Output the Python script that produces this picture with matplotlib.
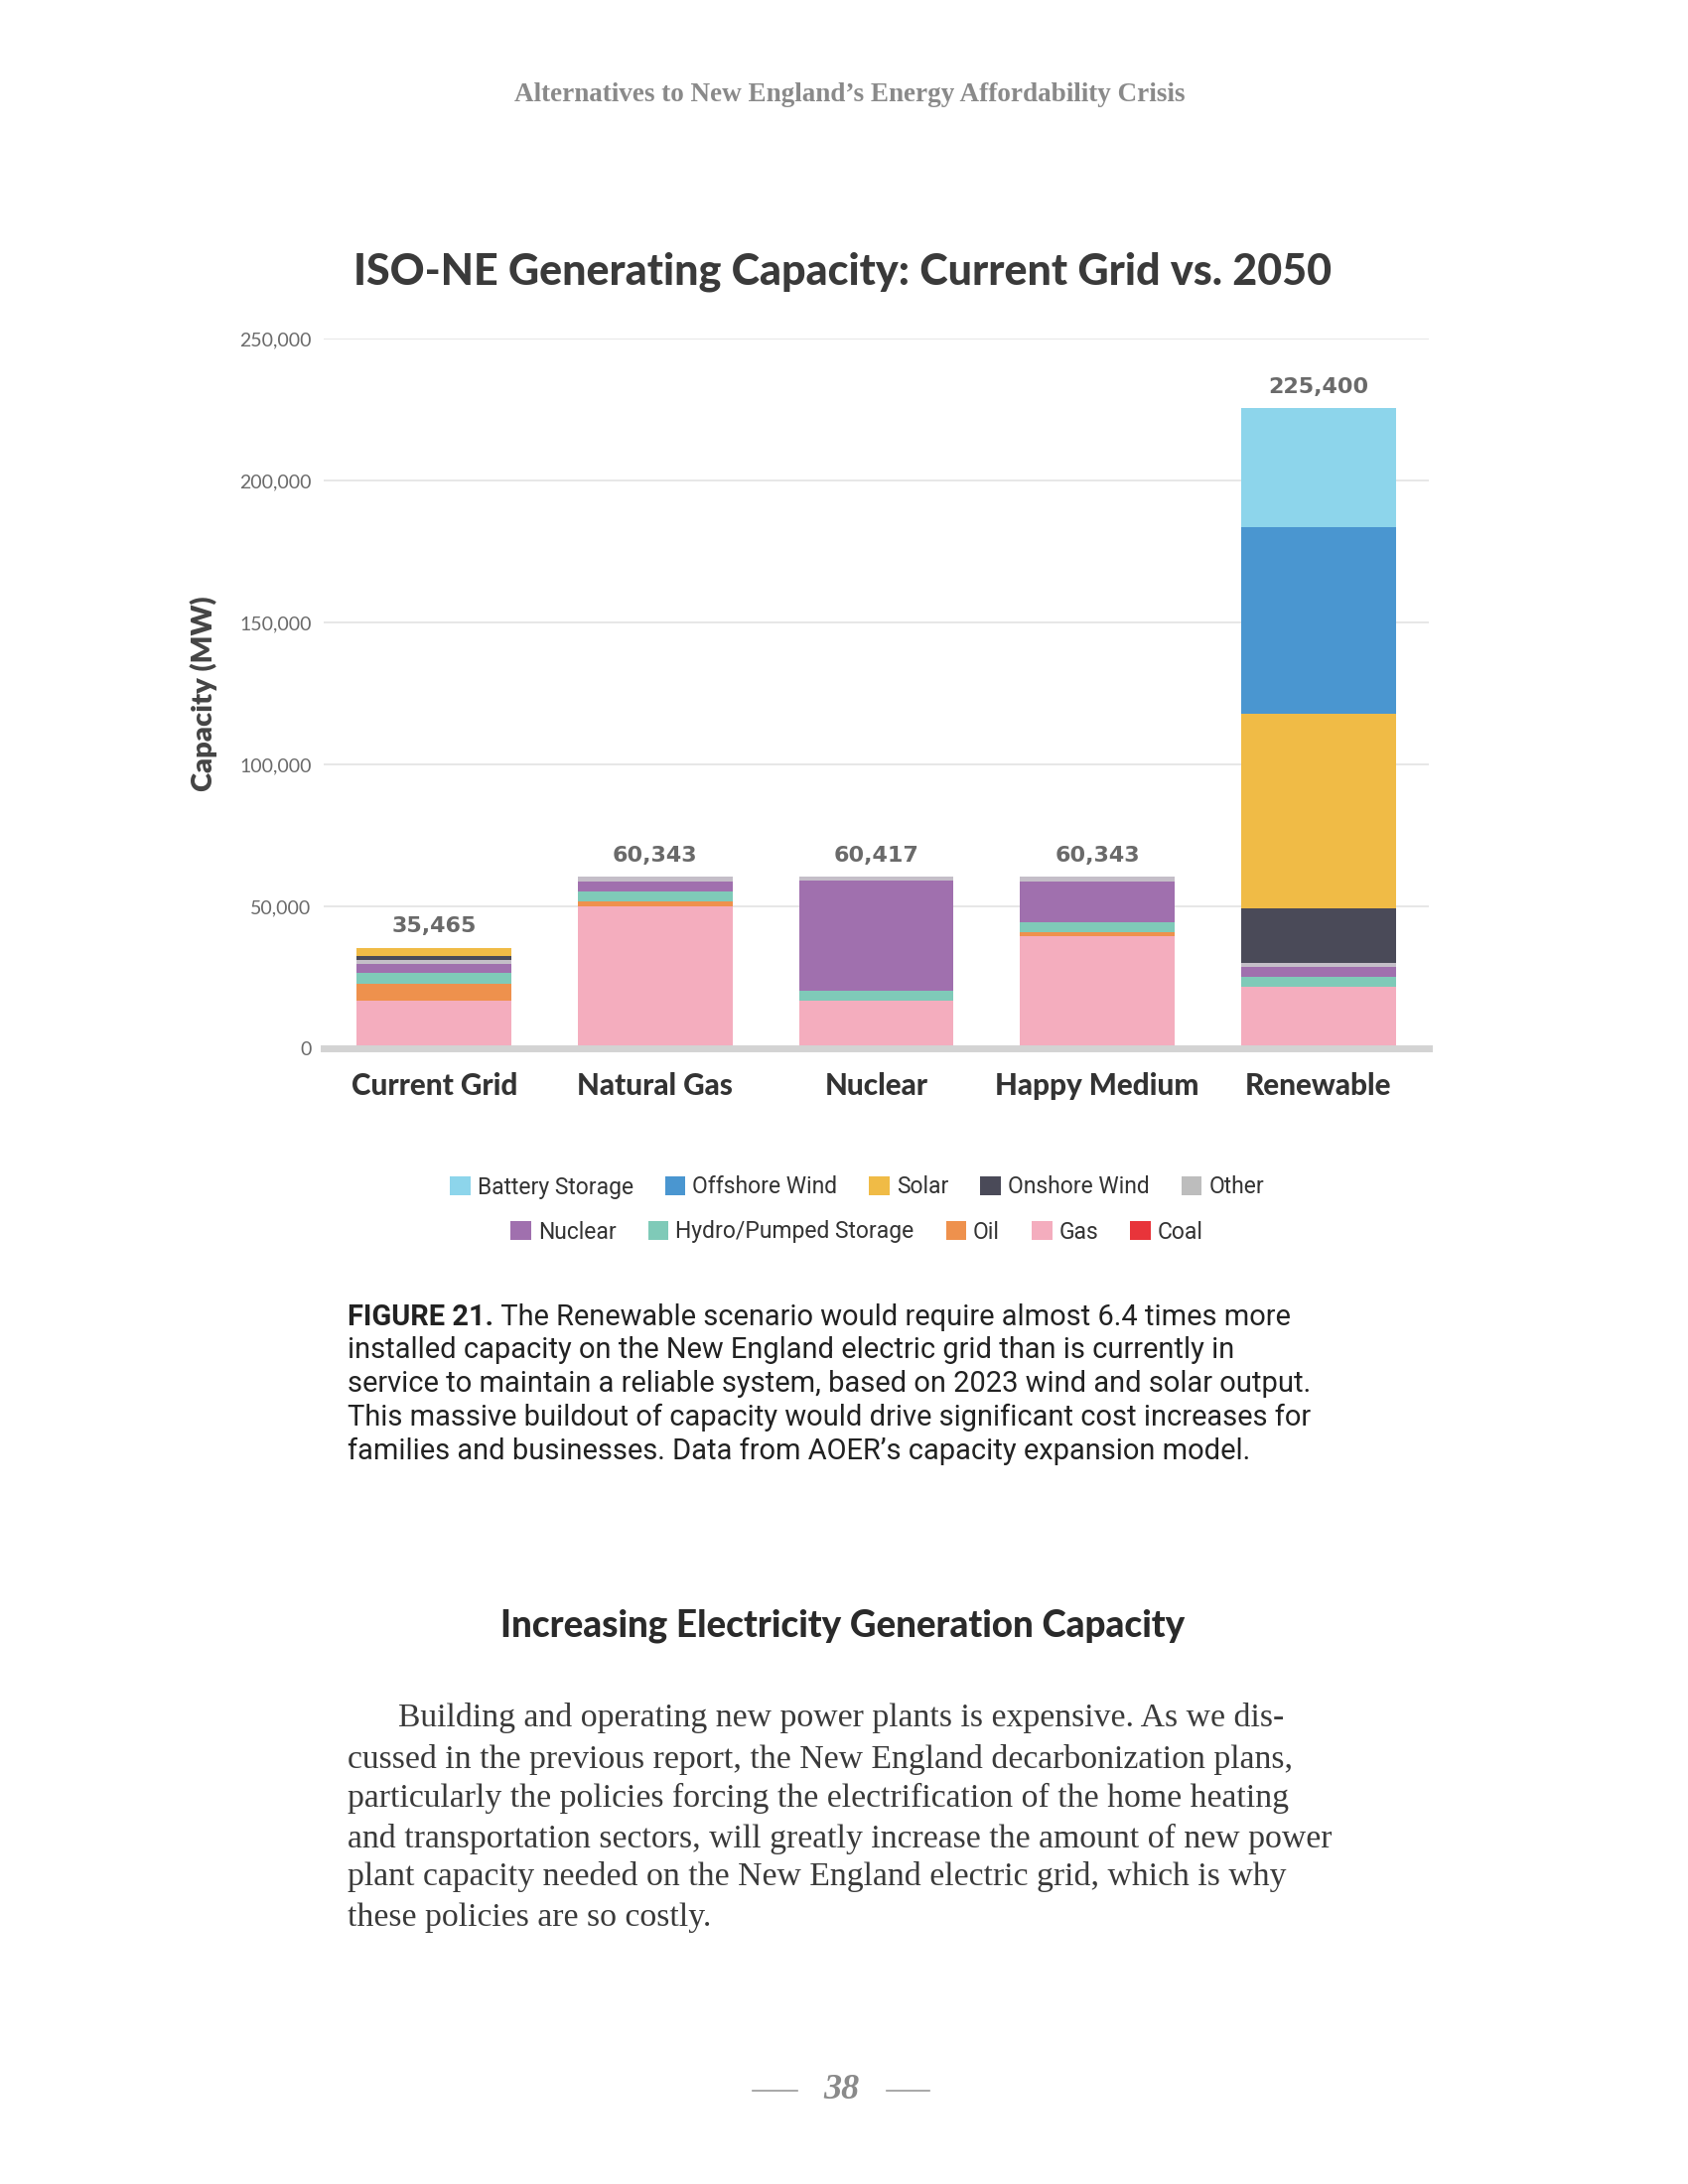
import matplotlib
matplotlib.use("Agg")
import matplotlib.pyplot as plt
from matplotlib.patches import Patch
from matplotlib.lines import Line2D
import numpy as np

categories = ["Current Grid", "Natural Gas", "Nuclear", "Happy Medium", "Renewable"]

# stacked series, bottom to top
coal     = [0, 0, 0, 0, 0]
gas      = [16700, 49843, 16700, 39443, 21600]
oil      = [6200, 2000, 0, 1300, 0]
hydro    = [3500, 3500, 3500, 3500, 3500]
nuclear  = [3350, 3500, 38717, 14600, 3500]
other    = [1500, 1500, 1500, 1500, 1500]
onshore  = [1400, 0, 0, 0, 19200]
solar    = [2815, 0, 0, 0, 68400]
offshore = [0, 0, 0, 0, 65700]
battery  = [0, 0, 0, 0, 42000]

yticks = [0, 50000, 100000, 150000, 200000, 250000]

series = [
    ("Coal", coal, "#E8343A"),
    ("Gas", gas, "#F4ADBE"),
    ("Oil", oil, "#EE914D"),
    ("Hydro/Pumped Storage", hydro, "#7FCAB8"),
    ("Nuclear", nuclear, "#A070AE"),
    ("Other", other, "#C4BEC8"),
    ("Onshore Wind", onshore, "#4A4A58"),
    ("Solar", solar, "#F0BB46"),
    ("Offshore Wind", offshore, "#4A96D0"),
    ("Battery Storage", battery, "#8DD5EB"),
]
legend_colors = {name: c for name, _, c in series}
legend_colors["Other"] = "#BDBDBD"

W, H = 1700, 2200
fig = plt.figure(figsize=(17, 22), dpi=100)
fig.patch.set_facecolor("white")

def fx(x):
    return x / W

def fy(y):
    return 1 - y / H

SANS = ["Lato", "DejaVu Sans"]
SERIF = ["Liberation Serif", "DejaVu Serif"]
NARROW = ["Liberation Sans Narrow", "Roboto", "DejaVu Sans"]

# header
fig.text(fx(856), fy(95), "Alternatives to New England\u2019s Energy Affordability Crisis",
         ha="center", va="center", fontsize=19.5, fontweight="bold", color="#8a8a8a",
         family=SERIF)

# title
fig.text(fx(849), fy(274), "ISO-NE Generating Capacity: Current Grid vs. 2050",
         ha="center", va="center", fontsize=31, fontweight="black", color="#3a3a3a",
         family=SANS)

ax = fig.add_axes([fx(326), fy(1056), fx(1439) - fx(326), fy(341) - fy(1056)])
x = np.arange(len(categories))
bottom = np.zeros(len(categories))
for name, vals, col in series:
    v = np.array(vals, dtype=float)
    ax.bar(x, v, width=0.70, bottom=bottom, color=col, edgecolor="none", zorder=3)
    bottom += v

totals = bottom
for xi, t in zip(x, totals):
    ax.annotate(f"{int(round(t)):,}", (xi, t), xytext=(0, 8), textcoords="offset points",
                ha="center", va="bottom", fontsize=16, fontweight="bold", color="#6a6a6a",
                family=["DejaVu Sans"])

ax.set_xlim(-0.5, 4.5)
ax.set_ylim(0, 250000)
ax.set_yticks(yticks)
ax.set_yticklabels([f"{v:,}" for v in yticks], fontsize=14, color="#6a6a6a",
                   family=SANS, fontweight="normal")
ax.set_xticks(x)
ax.set_xticklabels(categories, fontsize=21.3, fontweight="black", color="#333333", family=SANS)
ax.tick_params(axis="both", length=0)
ax.tick_params(axis="y", pad=9)
ax.tick_params(axis="x", pad=17)
ax.grid(axis="y", color="#E3E3E3", linewidth=1.2, zorder=0)
for s in ["top", "right", "left"]:
    ax.spines[s].set_visible(False)
ax.spines["bottom"].set_color("#D3D3D3")
ax.spines["bottom"].set_linewidth(5)
ax.spines["bottom"].set_zorder(4)
ax.set_ylabel("Capacity (MW)", fontsize=21, fontweight="heavy", color="#444444",
              family=SANS, labelpad=16)

# legends (two centered rows)
row1 = ["Battery Storage", "Offshore Wind", "Solar", "Onshore Wind", "Other"]
row2 = ["Nuclear", "Hydro/Pumped Storage", "Oil", "Gas", "Coal"]
for names, yy in [(row1, 1196), (row2, 1241)]:
    handles = [Patch(facecolor=legend_colors[n], edgecolor="none") for n in names]
    leg = fig.legend(handles, names, loc="center", bbox_to_anchor=(fx(863), fy(yy)),
                     ncol=5, frameon=False, handlelength=0.9, handleheight=0.9,
                     handletextpad=0.3, columnspacing=1.4,
                     prop={"family": NARROW, "size": 16.5})
    for t in leg.get_texts():
        t.set_color("#333333")

# caption
cap_lines = [
    " The Renewable scenario would require almost 6.4 times more",
    "installed capacity on the New England electric grid than is currently in",
    "service to maintain a reliable system, based on 2023 wind and solar output.",
    "This massive buildout of capacity would drive significant cost increases for",
    "families and businesses. Data from AOER\u2019s capacity expansion model.",
]
cap_y = [1327, 1360, 1394, 1428, 1462]
renderer = fig.canvas.get_renderer()
b = fig.text(fx(350), fy(cap_y[0]), "FIGURE 21.", ha="left", va="center", fontsize=20.9,
             fontweight="bold", color="#222222", family=NARROW)
bb = b.get_window_extent(renderer=renderer)
fig.text(bb.x1 / W, fy(cap_y[0]), cap_lines[0], ha="left", va="center", fontsize=20.9,
         color="#222222", family=NARROW)
for line, yy in zip(cap_lines[1:], cap_y[1:]):
    fig.text(fx(350), fy(yy), line, ha="left", va="center", fontsize=20.9,
             color="#222222", family=NARROW)

# section heading
fig.text(fx(849), fy(1638), "Increasing Electricity Generation Capacity", ha="center",
         va="center", fontsize=26.5, fontweight="black", color="#2a2a2a", family=SANS)

# body
body = [
    "Building and operating new power plants is expensive. As we dis-",
    "cussed in the previous report, the New England decarbonization plans,",
    "particularly the policies forcing the electrification of the home heating",
    "and transportation sectors, will greatly increase the amount of new power",
    "plant capacity needed on the New England electric grid, which is why",
    "these policies are so costly.",
]
body_y = [1731, 1772, 1811, 1852, 1891, 1932]
for i, (line, yy) in enumerate(zip(body, body_y)):
    fig.text(fx(401 if i == 0 else 350), fy(yy), line, ha="left", va="center",
             fontsize=24.3, color="#3a3a3a", family=SERIF)

# page number
fig.text(fx(847), fy(2106), "38", ha="center", va="center", fontsize=26,
         fontweight="bold", fontstyle="italic", color="#8a8a8a", family=SERIF)
for x0, x1 in [(758, 803), (893, 936)]:
    fig.add_artist(Line2D([fx(x0), fx(x1)], [fy(2106), fy(2106)], color="#9a9a9a",
                          linewidth=1.2, transform=fig.transFigure))

fig.savefig("out.png", dpi=100, facecolor="white")
